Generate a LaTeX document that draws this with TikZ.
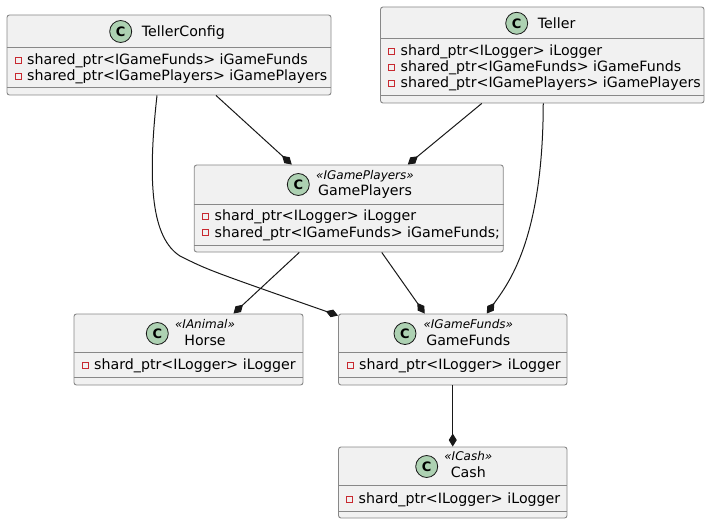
\documentclass[tikz,border=0pt]{standalone}
\usepackage{fontspec}
\setmainfont{DejaVu Sans}
\usepackage{xcolor}
\usepackage{tikz}
\usetikzlibrary{arrows.meta}
\definecolor{classfill}{HTML}{F1F1F1}
\definecolor{classborder}{HTML}{888888}
\definecolor{spotborder}{HTML}{181818}
\definecolor{spotgreen}{HTML}{ADD1B2}
\definecolor{privred}{HTML}{C82930}
\definecolor{linecolor}{HTML}{181818}

\begin{document}
\begin{tikzpicture}[x=1pt, y=-1pt]
    % Styles
    \tikzstyle{classbox} = [rectangle, rounded corners=2.5pt, draw=classborder, fill=classfill, line width=0.9pt, inner sep=0pt]
    \tikzstyle{spot} = [circle, draw=spotborder, fill=spotgreen, line width=0.8pt, minimum size=22pt, inner sep=0pt, font=\fontsize{13}{13}\selectfont\bfseries]
    \tikzstyle{classname} = [inner sep=0pt, font=\fontsize{14.2}{16}\selectfont]
    \tikzstyle{stereo} = [inner sep=0pt, anchor=base, font=\fontsize{12}{14}\selectfont\itshape]
    \tikzstyle{field} = [inner sep=0pt, anchor=base west, font=\fontsize{14.2}{16}\selectfont]
    \tikzstyle{priv} = [rectangle, draw=privred, line width=0.8pt, minimum size=6pt, inner sep=0pt]
    \tikzstyle{divider} = [draw=classborder, line width=0.9pt]
    \tikzstyle{arrow} = [line width=1pt, draw=linecolor, -{Diamond[length=13pt, width=8pt]}]

    \useasboundingbox (0,0) rectangle (710,524);

    % Class boxes - using absolute positioning
    \node[classbox, minimum width=324pt, minimum height=80pt] (tellerconfig) at (169,55) {};
    \node[classbox, minimum width=323.5pt, minimum height=96pt] (teller) at (542.25,55) {};
    \node[classbox, minimum width=309pt, minimum height=87pt] (gameplayers) at (348.75,208.5) {};
    \node[classbox, minimum width=229pt, minimum height=71pt] (horse) at (188.5,349.5) {};
    \node[classbox, minimum width=228.5pt, minimum height=71pt] (gamefunds) at (452.75,349.5) {};
    \node[classbox, minimum width=228.5pt, minimum height=71pt] (cash) at (452.75,482.5) {};

    % Dividers
    \draw[divider] ([yshift=-32.5pt]tellerconfig.north west) -- ([yshift=-32.5pt]tellerconfig.north east);
    \draw[divider] ([yshift=8pt]tellerconfig.south west) -- ([yshift=8pt]tellerconfig.south east);
    \draw[divider] ([yshift=-32pt]teller.north west) -- ([yshift=-32pt]teller.north east);
    \draw[divider] ([yshift=7.5pt]teller.south west) -- ([yshift=7.5pt]teller.south east);
    \draw[divider] ([yshift=-39.5pt]gameplayers.north west) -- ([yshift=-39.5pt]gameplayers.north east);
    \draw[divider] ([yshift=7.5pt]gameplayers.south west) -- ([yshift=7.5pt]gameplayers.south east);
    \draw[divider] ([yshift=-39pt]horse.north west) -- ([yshift=-39pt]horse.north east);
    \draw[divider] ([yshift=8pt]horse.south west) -- ([yshift=8pt]horse.south east);
    \draw[divider] ([yshift=-39pt]gamefunds.north west) -- ([yshift=-39pt]gamefunds.north east);
    \draw[divider] ([yshift=8pt]gamefunds.south west) -- ([yshift=8pt]gamefunds.south east);
    \draw[divider] ([yshift=-39pt]cash.north west) -- ([yshift=-39pt]cash.north east);
    \draw[divider] ([yshift=7.5pt]cash.south west) -- ([yshift=7.5pt]cash.south east);

    % Headers
    \node[spot] (tellerconfigspot) at (120.7,31.5) {C};
    \node[classname, anchor=base west] (tellerconfigname) at (141.7,36.5) {TellerConfig};
    \node[spot] (tellerspot) at (516.7,23.3) {C};
    \node[classname, anchor=base west] (tellername) at (537.7,28.3) {Teller};
    \node[spot] (gameplayersspot) at (298.3,184.5) {C};
    \node[stereo] (gameplayersstereo) at (365,179.3) {«IGamePlayers»};
    \node[classname, anchor=base] (gameplayersname) at (365,195.5) {GamePlayers};
    \node[spot] (horsespot) at (157.3,333.5) {C};
    \node[stereo] (horsestereo) at (205,328) {«IAnimal»};
    \node[classname, anchor=base] (horsename) at (205,345) {Horse};
    \node[spot] (gamefundsspot) at (405,333.5) {C};
    \node[stereo] (gamefundsstereo) at (468.3,328) {«IGameFunds»};
    \node[classname, anchor=base] (gamefundsname) at (468.3,345) {GameFunds};
    \node[spot] (cashspot) at (426.7,466.5) {C};
    \node[stereo] (cashstereo) at (468.3,460.7) {«ICash»};
    \node[classname, anchor=base] (cashname) at (468.3,477.3) {Cash};

    % Fields
    \node[priv] (tc1) at (18,60) {};
    \node[field] at (27,64.3) {shared\_ptr<IGameFunds> iGameFunds};
    \node[priv] (tc2) at (18,76) {};
    \node[field] at (27,80.3) {shared\_ptr<IGamePlayers> iGamePlayers};
    \node[priv] (te1) at (391.5,51.7) {};
    \node[field] at (400.5,56) {shard\_ptr<ILogger> iLogger};
    \node[priv] (te2) at (391.5,67.7) {};
    \node[field] at (400.5,72) {shared\_ptr<IGameFunds> iGameFunds};
    \node[priv] (te3) at (391.5,83.7) {};
    \node[field] at (400.5,88) {shared\_ptr<IGamePlayers> iGamePlayers};
    \node[priv] (gp1) at (205.5,216.7) {};
    \node[field] at (214.5,221) {shard\_ptr<ILogger> iLogger};
    \node[priv] (gp2) at (205.5,232.7) {};
    \node[field] at (214.5,237) {shared\_ptr<IGameFunds> iGameFunds;};
    \node[priv] (ho1) at (85,365) {};
    \node[field] at (94,369.3) {shard\_ptr<ILogger> iLogger};
    \node[priv] (gf1) at (350,365) {};
    \node[field] at (359,369.3) {shard\_ptr<ILogger> iLogger};
    \node[priv] (ca1) at (349.5,499.3) {};
    \node[field] at (358.5,503.6) {shard\_ptr<ILogger> iLogger};

    % Arrows
    \draw[arrow] ([xshift=47pt]tellerconfig.south) -- ([xshift=-57pt]gameplayers.north);
    \draw[arrow] ([xshift=-60.5pt]teller.south) -- ([xshift=59pt]gameplayers.north);
    \coordinate (cfgbend) at (180,256);
    \draw[arrow] ([xshift=-12pt]tellerconfig.south) .. controls (147,185) and (152,238) .. (cfgbend) .. controls (208,270) .. ([yshift=-2pt]gamefunds.north west);
    \draw[arrow] ([xshift=1pt]teller.south) .. controls (543,240) and (508,284) .. ([xshift=34pt]gamefunds.north);
    \draw[arrow] ([xshift=-49.5pt]gameplayers.south) -- ([xshift=45pt]horse.north);
    \draw[arrow] ([xshift=33pt]gameplayers.south) -- ([xshift=-28pt]gamefunds.north);
    \draw[arrow] (gamefunds.south) -- (cash.north);
\end{tikzpicture}
\end{document}
